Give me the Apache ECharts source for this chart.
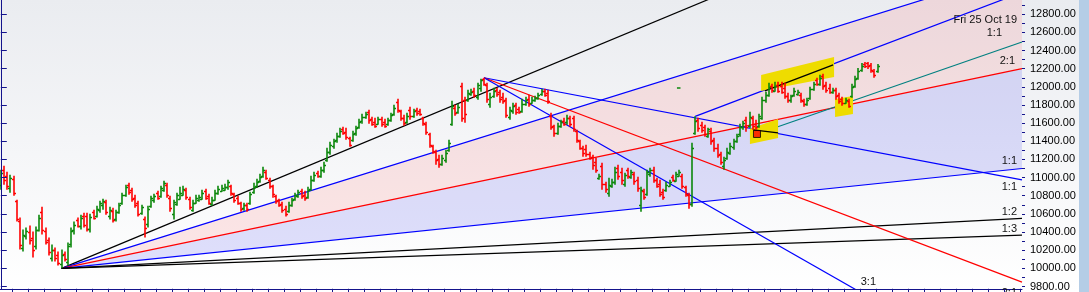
<!DOCTYPE html>
<html><head><meta charset="utf-8">
<script src="https://cdn.jsdelivr.net/npm/echarts@6/dist/echarts.min.js"></script>
<style>html,body{margin:0;padding:0;background:#fff}#c{width:1089px;height:292px}</style>
</head><body><div id="c"></div>
<script>
// ---- OHLC data (daily bars, last bar Fri 25 Oct 2019) ----
const opens = [
10922,11087,11021,10889,10988,10746,10526,10229,10361,10405,
10339,10251,10427,10625,10416,10317,10119,10207,10152,10053,
10163,10075,10273,10427,10537,10471,10581,10581,10438,10625,
10581,10647,10702,10735,10581,10636,10548,10625,10724,10812,
10922,10867,10779,10724,10614,10548,10493,10691,10757,10834,
10801,10867,10922,10779,10603,10713,10768,10812,10867,10768,
10647,10724,10757,10768,10856,10801,10713,10757,10834,10856,
10867,10900,10911,10823,10779,10724,10669,10702,10724,10845,
10911,10966,11021,11065,10977,10911,10801,10757,10713,10658,
10636,10702,10768,10801,10856,10812,10790,10878,10977,11054,
11021,11087,11197,11285,11351,11417,11461,11538,11505,11439,
11417,11494,11560,11626,11670,11725,11648,11615,11593,11648,
11615,11593,11637,11703,11835,11736,11659,11615,11747,11681,
11747,11736,11659,11593,11483,11351,11285,11208,11153,11197,
11307,11593,11769,11725,12011,11857,11857,11923,11956,11890,
11989,12088,12022,11813,11901,11967,11945,11890,11857,11670,
11736,11802,11758,11736,11813,11868,11824,11857,11879,11923,
11956,11934,11681,11571,11494,11571,11626,11615,11659,11659,
11516,11406,11329,11318,11263,11230,11175,10999,11131,10933,
10834,10911,10955,11109,11065,10933,11087,11010,11043,10977,
10702,10856,10823,11043,11087,10977,10933,10845,10867,10911,
11010,10966,11021,11021,10900,10812,10713,11494,11637,11582,
11560,11461,11516,11417,11329,11263,11131,11219,11274,11340,
11406,11483,11560,11637,11571,11659,11593,11571,11659,11857,
11912,12011,11956,12022,12011,11989,11901,11857,11912,11923,
11912,11846,11813,11879,11978,12077,12033,12121,12022,11989,
11945,11967,11912,11868,11824,11846,11901,12011,12099,12187,
12253,12264,12242,12176,12176];
const highs = [
11087,11131,11065,11032,11021,10757,10559,10427,10449,10471,
10405,10460,10592,10680,10449,10339,10262,10229,10185,10207,
10185,10284,10449,10515,10559,10592,10614,10614,10603,10647,
10691,10746,10768,10757,10680,10669,10647,10724,10834,10922,
10944,10889,10812,10746,10702,10570,10691,10801,10823,10856,
10911,10966,10944,10801,10757,10834,10900,10911,10889,10790,
10757,10812,10812,10867,10878,10823,10790,10867,10911,10922,
10933,10977,10922,10834,10801,10735,10724,10724,10845,10944,
10988,11043,11120,11087,10999,10922,10812,10768,10735,10691,
10735,10779,10834,10867,10878,10856,10900,11021,11065,11076,
11120,11175,11329,11395,11428,11494,11549,11560,11549,11450,
11516,11571,11648,11703,11725,11747,11670,11659,11670,11670,
11648,11659,11714,11802,11868,11747,11692,11714,11780,11758,
11769,11758,11670,11615,11494,11362,11307,11252,11252,11307,
11417,11846,11802,11813,12044,11890,11967,11978,11989,12044,
12088,12100,12044,11934,11989,11989,11967,11934,11879,11780,
11824,11824,11780,11868,11890,11912,11890,11901,11934,11978,
11978,11967,11714,11582,11604,11637,11659,11692,11681,11681,
11527,11417,11351,11362,11285,11252,11219,11043,11164,10955,
10999,10988,11120,11142,11109,11054,11109,11087,11065,11010,
10900,10878,11087,11109,11120,10999,10977,10878,10955,10977,
11032,11065,11087,11043,10911,10834,11384,11675,11659,11615,
11582,11549,11549,11439,11373,11285,11230,11329,11384,11428,
11483,11593,11626,11670,11725,11681,11637,11703,11890,11945,
12044,12033,12055,12055,12055,12044,11934,11912,11989,11967,
11934,11868,11879,12000,12055,12099,12132,12143,12055,12033,
11989,11989,11934,11890,11879,11868,12033,12121,12209,12264,
12275,12275,12264,12198,12253];
const lows = [
10867,10922,10867,10834,10801,10515,10207,10185,10317,10262,
10119,10207,10405,10372,10262,10141,10075,10075,10031,10000,
10075,10031,10229,10372,10449,10427,10449,10405,10394,10537,
10559,10614,10647,10592,10537,10504,10515,10603,10702,10790,
10812,10735,10669,10570,10592,10339,10449,10669,10724,10757,
10779,10845,10779,10625,10537,10691,10757,10801,10757,10647,
10625,10713,10735,10757,10757,10702,10691,10746,10812,10845,
10856,10867,10801,10724,10702,10625,10636,10625,10702,10823,
10889,10944,10999,10977,10878,10779,10713,10680,10614,10570,
10614,10680,10746,10779,10768,10746,10768,10856,10955,10999,
10999,11054,11175,11252,11318,11384,11439,11472,11417,11340,
11395,11461,11538,11593,11648,11593,11571,11549,11582,11560,
11549,11571,11615,11681,11714,11626,11571,11593,11637,11659,
11681,11681,11571,11472,11329,11263,11142,11109,11131,11164,
11285,11571,11681,11703,11615,11604,11835,11901,11879,11857,
11945,12011,11824,11769,11879,11890,11824,11813,11659,11637,
11703,11692,11703,11714,11791,11780,11813,11835,11857,11901,
11890,11813,11527,11450,11472,11549,11571,11582,11560,11505,
11384,11307,11230,11230,11197,11087,11054,10977,10867,10834,
10790,10889,10922,10977,10922,10900,10988,10988,10922,10845,
10625,10757,10801,11010,10944,10889,10790,10757,10845,10900,
10955,10955,11010,10878,10790,10658,10680,11472,11505,11494,
11450,11439,11362,11285,11219,11142,11087,11197,11252,11307,
11384,11450,11527,11505,11549,11527,11527,11549,11637,11824,
11890,11934,11945,11934,11923,11868,11824,11824,11890,11901,
11824,11780,11791,11857,11956,12011,12011,11967,11934,11923,
11923,11857,11813,11791,11813,11769,11879,11989,12077,12165,
12209,12198,12154,12099,12154];
const closes = [
11054,10977,10911,10999,10834,10548,10262,10372,10416,10317,
10207,10427,10559,10427,10295,10185,10207,10119,10064,10152,
10108,10251,10416,10482,10471,10559,10482,10438,10570,10559,
10658,10724,10746,10625,10647,10537,10625,10702,10812,10900,
10845,10768,10702,10603,10680,10449,10658,10779,10801,10779,
10889,10944,10812,10669,10735,10812,10834,10878,10790,10680,
10724,10779,10790,10834,10779,10724,10757,10834,10878,10889,
10900,10955,10834,10757,10724,10658,10702,10658,10823,10900,
10955,11010,11087,10999,10911,10823,10746,10702,10647,10603,
10702,10757,10812,10845,10801,10779,10867,10977,11032,11021,
11087,11142,11285,11362,11406,11461,11516,11494,11450,11362,
11483,11549,11615,11670,11703,11637,11593,11571,11648,11593,
11571,11637,11692,11769,11747,11659,11604,11681,11681,11736,
11714,11703,11604,11505,11362,11296,11197,11153,11219,11274,
11384,11791,11714,11780,11659,11703,11934,11945,11912,12022,
12077,12033,11868,11890,11956,11923,11868,11846,11692,11747,
11791,11725,11725,11813,11857,11813,11857,11879,11912,11956,
11912,11846,11560,11494,11571,11615,11593,11659,11593,11538,
11417,11329,11274,11263,11219,11142,11087,11021,10933,10878,
10922,10955,11065,11021,10977,11032,11021,11065,10966,10889,
10867,10790,11065,11087,10977,10911,10823,10790,10922,10955,
10977,11043,11065,10911,10823,10713,11329,11626,11549,11527,
11483,11538,11406,11329,11252,11175,11197,11285,11351,11406,
11461,11560,11604,11560,11670,11571,11560,11681,11857,11912,
12000,11967,12011,11956,11945,11901,11857,11901,11956,11945,
11857,11813,11857,11978,12033,12033,12099,12011,11967,11945,
11967,11901,11846,11824,11857,11791,12000,12088,12176,12231,
12231,12231,12187,12132,12231];

// ---- axes ----
const yLabelValues = [9800,10000,10200,10400,10600,10800,11000,11200,11400,11600,11800,12000,12200,12400,12600,12800];
const yMinorValues = [9800,9900,10000,10100,10200,10300,10400,10500,10600,10700,10800,10900,11000,11100,11200,11300,11400,11500,11600,11700,11800,11900,12000,12100,12200,12300,12400,12500,12600,12700,12800,12900];
const Y_MIN = 9775, Y_MAX = 12957;
const X_MIN = -0.25, X_MAX = 319.125;
const xTickValues = [];
for (let v = 3.6; v < X_MAX; v += 5) xTickValues.push(v);

// ---- drawing tools (bar index, price) ----
const fan1Anchor = [19, 10000];
const fan1EndPrices = [14400, 13300, 12200, 11100, 10550, 10367]; // 4:1 3:1 2:1 1:1 1:2 1:3
const fan2Anchor = [151, 12100];
const fan2EndPrices = [10974, 9848, 8722];                        // 1:1 2:1 3:1
const fan3Line = [[217, 11674], [X_MAX, 13042]];
const tealLine = [[236.3, 11481], [X_MAX, 12494]];
const blackSegments = [
  [[238.8, 11955], [260.1, 12241]],
  [[235.1, 11525], [242.9, 11492]]
];
const highlightBoxes = [
  [[237.6, 12131], [260.4, 12329], [260.4, 12109], [237.6, 11955]],
  [[234.1, 11537], [242.9, 11647], [242.9, 11437], [234.1, 11371]],
  [[260.7, 11867], [266.3, 11900], [266.3, 11702], [260.7, 11669]]
];
const markerPoint = [236.3, 11481];
const greenDash = [[211.3, 11988], [212.4, 11988]];

// ---- styles ----
const fan1Colors = ['#000000', '#0000ff', '#ff0000', '#0000ff', '#000000', '#000000'];
const fan2Colors = ['#0000ff', '#ff0000', '#0000ff'];
const UP = '#0b870b', DOWN = '#ff0000', AXIS = '#14148c';
const FONT = '"Liberation Sans", Arial, sans-serif';

const chart = echarts.init(document.getElementById('c'), null, {renderer: 'canvas', width: 1089, height: 292});

function seg(points, color, z, width) {
  return {type: 'line', data: points, showSymbol: false, symbol: 'none', silent: true,
    animation: false, clip: true, z: z, lineStyle: {color: color, width: width || 1.2}};
}

const series = [];
// fills of fan 1
const fills = [
  {poly: [fan1Anchor, [X_MAX, fan1EndPrices[1]], [X_MAX, fan1EndPrices[2]]], color: 'rgba(255,100,100,0.15)'},
  {poly: [fan1Anchor, [X_MAX, fan1EndPrices[2]], [X_MAX, fan1EndPrices[3]]], color: 'rgba(40,45,240,0.14)'}
];
series.push({
  type: 'custom', z: 1, silent: true, clip: true,
  data: fills.map((f, i) => [i]),
  renderItem: function (params, api) {
    const f = fills[params.dataIndex];
    return {type: 'polygon', shape: {points: f.poly.map(p => api.coord(p))}, style: {fill: f.color}};
  }
});
fan1EndPrices.forEach((p, k) => series.push(seg([fan1Anchor, [X_MAX, p]], fan1Colors[k], 2)));
fan2EndPrices.forEach((p, k) => series.push(seg([fan2Anchor, [X_MAX, p]], fan2Colors[k], 2)));
series.push(seg(fan3Line, '#0000ff', 2));
series.push(seg(tealLine, '#008080', 2));
// highlight boxes
series.push({
  type: 'custom', z: 3, silent: true, clip: true,
  data: highlightBoxes.map((b, i) => [i]),
  renderItem: function (params, api) {
    const b = highlightBoxes[params.dataIndex];
    return {type: 'polygon', shape: {points: b.map(p => api.coord(p))}, style: {fill: '#eedc00'}};
  }
});
blackSegments.forEach(s => series.push(seg(s, '#000000', 4, 1.3)));
series.push(seg(greenDash, '#0b870b', 4, 1.5));
// OHLC bars
series.push({
  type: 'custom', z: 5, silent: true, clip: true,
  data: opens.map((o, i) => [i, o, closes[i], lows[i], highs[i]]),
  renderItem: function (params, api) {
    const i = api.value(0);
    const o = api.coord([i, api.value(1)]);
    const c = api.coord([i, api.value(2)]);
    const l = api.coord([i, api.value(3)]);
    const h = api.coord([i, api.value(4)]);
    const x = Math.round(o[0]);
    const col = api.value(2) >= api.value(1) ? UP : DOWN;
    const st = {stroke: col, lineWidth: 1.6};
    return {type: 'group', children: [
      {type: 'line', shape: {x1: x, y1: h[1], x2: x, y2: l[1]}, style: st},
      {type: 'line', shape: {x1: x - 2, y1: Math.round(o[1]) + 0.5, x2: x, y2: Math.round(o[1]) + 0.5}, style: {stroke: col, lineWidth: 1.4}},
      {type: 'line', shape: {x1: x, y1: Math.round(c[1]) + 0.5, x2: x + 2, y2: Math.round(c[1]) + 0.5}, style: {stroke: col, lineWidth: 1.4}}
    ]};
  }
});
series.push({
  type: 'scatter', z: 6, silent: true, data: [markerPoint], symbol: 'rect', symbolSize: 7,
  itemStyle: {color: '#ff0000', borderColor: '#000000', borderWidth: 1}
});

const textStyle = {fill: '#111', font: '11px ' + FONT, align: 'right', verticalAlign: 'middle'};
function label(t, x, y) { return {type: 'text', x: x, y: y, z: 100, silent: true, style: Object.assign({text: t}, textStyle)}; }

chart.setOption({
  animation: false,
  backgroundColor: {type: 'linear', x: 0, y: 0, x2: 0, y2: 1, colorStops: [{offset: 0, color: '#eaecf0'}, {offset: 1, color: '#ffffff'}]},
  grid: {left: 0, right: 67, top: 0, bottom: 3, containLabel: false},
  xAxis: {
    type: 'value', min: X_MIN, max: X_MAX, z: 10,
    axisLine: {show: true, lineStyle: {color: AXIS, width: 1}},
    axisTick: {show: true, customValues: xTickValues, length: 4, lineStyle: {color: AXIS}},
    axisLabel: {show: false}, splitLine: {show: false}
  },
  yAxis: [{
    type: 'value', position: 'right', min: Y_MIN, max: Y_MAX, z: 10,
    axisLine: {show: true, lineStyle: {color: AXIS, width: 1}},
    axisTick: {show: true, customValues: yLabelValues, length: 6, lineStyle: {color: AXIS}},
    axisLabel: {show: true, customValues: yLabelValues, margin: 8, color: '#000', fontSize: 11, fontFamily: FONT,
      formatter: v => Number(v).toFixed(2)},
    splitLine: {show: false}
  }, {
    type: 'value', position: 'right', min: Y_MIN, max: Y_MAX, z: 10,
    axisLine: {show: false},
    axisTick: {show: true, customValues: yMinorValues, length: 3, lineStyle: {color: AXIS}},
    axisLabel: {show: false}, splitLine: {show: false}
  }],
  graphic: [
    {type: 'rect', z: 50, silent: true, shape: {x: 1079, y: 0, width: 10, height: 292}, style: {fill: '#b5cde6'}},
    label('Fri 25 Oct 19', 1017, 20),
    label('1:1', 1002, 33),
    label('2:1', 1015, 61),
    label('1:1', 1017, 161),
    label('1:1', 1017, 187),
    label('1:2', 1017, 211.5),
    label('1:3', 1017, 228.5),
    label('3:1', 876, 281.5),
    label('2:1', 1017, 293)
  ],
  series: series
});
</script>
</body></html>
